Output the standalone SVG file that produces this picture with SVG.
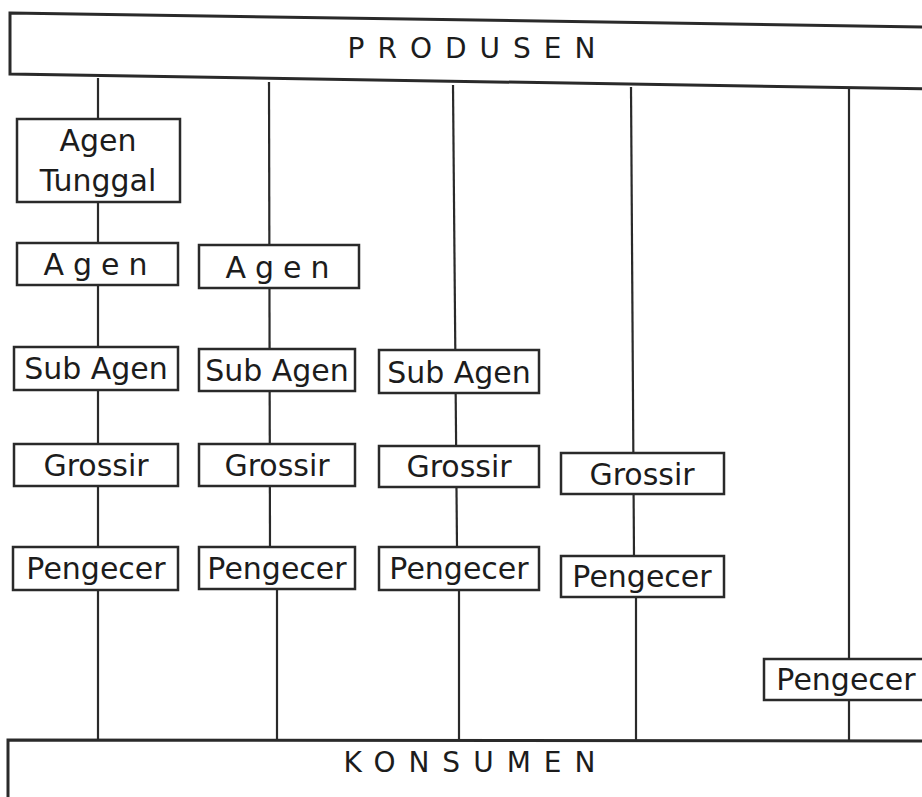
<svg xmlns="http://www.w3.org/2000/svg" width="922" height="797" viewBox="0 0 922 797">
<style>
.box{fill:#fff;stroke:#2a2a2a;stroke-width:2.5}
.bar{fill:#fff;stroke:#2a2a2a;stroke-width:3}
.ln{stroke:#2a2a2a;stroke-width:2.2;fill:none}
.t{font-family:"DejaVu Sans",Verdana,sans-serif;font-size:30px;fill:#1c1c1c;text-anchor:middle}
.sp{letter-spacing:9px}
.big{font-family:"DejaVu Sans",Verdana,sans-serif;font-size:28px;fill:#1c1c1c;text-anchor:middle;letter-spacing:13px}
</style>
<rect width="922" height="797" fill="#fff"/>
<g id="connectors">
<line class="ln" x1="98" y1="78" x2="98" y2="740"/>
<line class="ln" x1="269" y1="82" x2="270" y2="547"/>
<line class="ln" x1="277" y1="589" x2="277" y2="740"/>
<line class="ln" x1="453" y1="85" x2="457" y2="547"/>
<line class="ln" x1="459" y1="590" x2="459" y2="740"/>
<line class="ln" x1="631" y1="87" x2="634" y2="556"/>
<line class="ln" x1="636" y1="597" x2="636" y2="740"/>
<line class="ln" x1="849" y1="89" x2="849" y2="740"/>
</g>
<g id="produsen">
<polygon class="bar" points="10,13 930,27 930,89 10,74"/>
<text class="big" x="478" y="58">PRODUSEN</text>
</g>
<g id="konsumen">
<polygon class="bar" points="8,740 930,741 930,810 8,810"/>
<text class="big" x="476" y="772">KONSUMEN</text>
</g>
<g id="agen-tunggal">
<rect class="box" x="17" y="119" width="163" height="83"/>
<text class="t" x="98" y="151">Agen</text>
<text class="t" x="98" y="191">Tunggal</text>
</g>
<g id="agen-1">
<rect class="box" x="17" y="243" width="161" height="42"/>
<text class="t sp" x="100" y="275">Agen</text>
</g>
<g id="agen-2">
<rect class="box" x="199" y="245" width="160" height="43"/>
<text class="t sp" x="282" y="278">Agen</text>
</g>
<g id="subagen-1">
<rect class="box" x="14" y="347" width="164" height="43"/>
<text class="t" x="96" y="379">Sub Agen</text>
</g>
<g id="subagen-2">
<rect class="box" x="199" y="349" width="156" height="42"/>
<text class="t" x="277" y="381">Sub Agen</text>
</g>
<g id="subagen-3">
<rect class="box" x="379" y="350" width="160" height="43"/>
<text class="t" x="459" y="383">Sub Agen</text>
</g>
<g id="grossir-1">
<rect class="box" x="14" y="444" width="164" height="42"/>
<text class="t" x="96" y="476">Grossir</text>
</g>
<g id="grossir-2">
<rect class="box" x="199" y="444" width="156" height="42"/>
<text class="t" x="277" y="476">Grossir</text>
</g>
<g id="grossir-3">
<rect class="box" x="379" y="446" width="160" height="41"/>
<text class="t" x="459" y="477">Grossir</text>
</g>
<g id="grossir-4">
<rect class="box" x="561" y="453" width="163" height="41"/>
<text class="t" x="642" y="485">Grossir</text>
</g>
<g id="pengecer-1">
<rect class="box" x="13" y="547" width="165" height="43"/>
<text class="t" x="96" y="579">Pengecer</text>
</g>
<g id="pengecer-2">
<rect class="box" x="199" y="547" width="156" height="42"/>
<text class="t" x="277" y="579">Pengecer</text>
</g>
<g id="pengecer-3">
<rect class="box" x="379" y="547" width="160" height="43"/>
<text class="t" x="459" y="579">Pengecer</text>
</g>
<g id="pengecer-4">
<rect class="box" x="561" y="556" width="163" height="41"/>
<text class="t" x="642" y="587">Pengecer</text>
</g>
<g id="pengecer-5">
<rect class="box" x="764" y="659" width="170" height="41"/>
<text class="t" x="846" y="690">Pengecer</text>
</g>
</svg>
